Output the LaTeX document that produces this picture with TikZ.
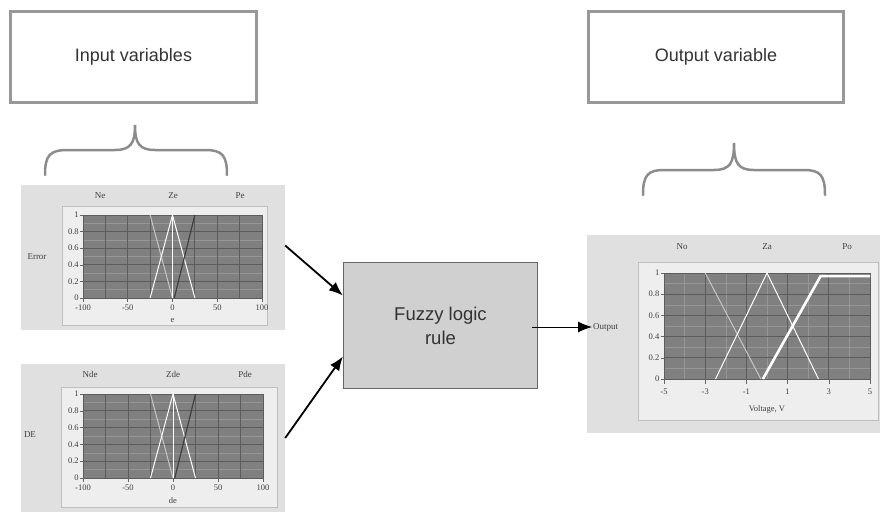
\documentclass[tikz,border=0pt]{standalone}
\usepackage{fontspec}
\setmainfont{Liberation Serif}
\setsansfont{Liberation Sans}
\usetikzlibrary{arrows.meta}

\definecolor{boxgray}{RGB}{152,152,152}
\definecolor{panelgray}{RGB}{224,224,224}
\definecolor{framegray}{RGB}{238,238,238}
\definecolor{plotgray}{RGB}{128,128,128}
\definecolor{majorgray}{RGB}{92,92,92}
\definecolor{minorgray}{RGB}{150,150,150}
\definecolor{rulegray}{RGB}{208,208,208}

\begin{document}
\begin{tikzpicture}[x=1pt, y=-1pt, font=\sffamily]
        \useasboundingbox (0,0) rectangle (880,514);

        % Setup the styles
        \tikzset{labelbox/.style={draw=boxgray, line width=2.5pt,
                                  minimum height=91pt,
                                  font=\sffamily\fontsize{18}{22}\selectfont,
                                  text=black!80},
                 panel/.style={fill=panelgray, draw=none, inner sep=0pt},
                 frame/.style={fill=framegray, draw=black!25, line width=0.6pt},
                 setname/.style={font=\rmfamily\fontsize{9}{10}\selectfont,
                                 text=black!75, inner sep=1pt},
                 ticklabel/.style={font=\rmfamily\fontsize{8.5}{9}\selectfont,
                                   text=black!75, inner sep=1pt},
                 minorline/.style={draw=minorgray, line width=0.5pt},
                 majorline/.style={draw=majorgray, line width=0.9pt},
                 tickline/.style={draw=black!60, line width=0.6pt},
                 mfline/.style={draw=white, line width=1pt},
                 fadeline/.style={draw=white!55!plotgray, line width=1pt},
                 darkline/.style={draw=black!75, line width=1.2pt},
                 bracket/.style={draw=black!45, line width=2.5pt, line cap=round},
                 arr/.style={-{Latex[length=14pt, width=11pt]}, line width=1.8pt}}

        % Draw the title boxes
        \node[labelbox, minimum width=246pt] at (133.5,57) (inbox) {Input variables};
        \node[labelbox, minimum width=255pt] at (716,57) (outbox) {Output variable};

        % Draw the braces
        \draw[bracket] (45,175) .. controls (45,155) and (50,150) .. (68,150)
            -- (115,150) .. controls (131,150) and (135,143) .. (135,125)
            .. controls (135,143) and (139,150) .. (155,150)
            -- (205,150) .. controls (222,150) and (227,155) .. (227,175);
        \draw[bracket] (643,195) .. controls (643,175) and (648,170) .. (664,170)
            -- (714,170) .. controls (730,170) and (734,163) .. (734,143)
            .. controls (734,163) and (738,170) .. (754,170)
            -- (804,170) .. controls (820,170) and (825,175) .. (825,195);

        % Error panel
        \node[panel, minimum width=264pt, minimum height=145pt] at (153,257.5) (err) {};
        \draw[frame] (62,206) rectangle (267,325);
        \node[setname] at (100,196) (ne) {Ne};
        \node[setname] at (173,196) (ze) {Ze};
        \node[setname] at (240,196) (pe) {Pe};
        \node[setname] at (37,257) (errname) {Error};
        \begin{scope}[shift={(172.5,298)}, x=0.895pt, y=83pt]
            \fill[plotgray] (-100,0) rectangle (100,1);
            \foreach \v in {0.1,0.3,0.5,0.7,0.9} \draw[minorline] (-100,\v) -- (100,\v);
            \foreach \v in {0,0.2,0.4,0.6,0.8,1} \draw[majorline] (-100,\v) -- (100,\v);
            \foreach \u in {-100,-75,...,100} \draw[majorline] (\u,0) -- (\u,1);
            \foreach \u [count=\k] in {-100,-50,0,50,100} {
                \draw[tickline] (\u,0) -- (\u,-0.05);
                \node[ticklabel, anchor=north] at (\u,-0.07) (ex\k) {\u};
            }
            \foreach \v [count=\k] in {0,0.2,0.4,0.6,0.8,1} {
                \draw[tickline] (-100,\v) -- ++(-3pt,0);
                \node[ticklabel, anchor=east] at (-103.5,\v) (ey\k) {\v};
            }
            \node[ticklabel] at (0,-0.27) (exname) {e};
            \draw[fadeline] (-25,1) -- (0,0);
            \draw[mfline] (-25,0) -- (0,1) -- (25,0);
            \draw[mfline] (0,0) -- (0,1);
            \draw[darkline] (2,0) -- (25,1);
        \end{scope}

        % DE panel
        \node[panel, minimum width=264pt, minimum height=148pt] at (153,438) (de) {};
        \draw[frame] (61,387) rectangle (277,507);
        \node[setname] at (90,374) (nde) {Nde};
        \node[setname] at (173,374) (zde) {Zde};
        \node[setname] at (245,374) (pde) {Pde};
        \node[setname] at (30,435) (dename) {DE};
        \begin{scope}[shift={(173,478)}, x=0.9pt, y=84pt]
            \fill[plotgray] (-100,0) rectangle (100,1);
            \foreach \v in {0.1,0.3,0.5,0.7,0.9} \draw[minorline] (-100,\v) -- (100,\v);
            \foreach \v in {0,0.2,0.4,0.6,0.8,1} \draw[majorline] (-100,\v) -- (100,\v);
            \foreach \u in {-100,-75,...,100} \draw[majorline] (\u,0) -- (\u,1);
            \foreach \u [count=\k] in {-100,-50,0,50,100} {
                \draw[tickline] (\u,0) -- (\u,-0.05);
                \node[ticklabel, anchor=north] at (\u,-0.07) (dx\k) {\u};
            }
            \foreach \v [count=\k] in {0,0.2,0.4,0.6,0.8,1} {
                \draw[tickline] (-100,\v) -- ++(-3pt,0);
                \node[ticklabel, anchor=east] at (-103.5,\v) (dy\k) {\v};
            }
            \node[ticklabel] at (0,-0.27) (dxname) {de};
            \draw[fadeline] (-25,1) -- (0,0);
            \draw[mfline] (-25,0) -- (0,1) -- (25,0);
            \draw[mfline] (0,0) -- (0,1);
            \draw[darkline] (2,0) -- (25,1);
        \end{scope}

        % Fuzzy logic rule
        \node[draw=black!60, fill=rulegray, line width=1.2pt,
              minimum width=194pt, minimum height=126pt, align=center,
              font=\sffamily\fontsize{18.5}{24}\selectfont, text=black!80]
              at (440.5,325.5) (rule) {Fuzzy logic\\rule};

        % Output panel
        \node[panel, minimum width=293pt, minimum height=198pt] at (733.5,334) (out) {};
        \draw[frame] (638,262) rectangle (878,420);
        \node[setname] at (682,247) (no) {No};
        \node[setname] at (767,247) (zo) {Za};
        \node[setname] at (847,247) (po) {Po};
        \node[setname, anchor=west] at (592,327) (outname) {Output};
        \begin{scope}[shift={(767,379)}, x=20.6pt, y=106pt]
            \fill[plotgray] (-5,0) rectangle (5,1);
            \foreach \v in {0.1,0.3,0.5,0.7,0.9} \draw[minorline] (-5,\v) -- (5,\v);
            \foreach \u in {-4,-2,0,2,4} \draw[minorline] (\u,0) -- (\u,1);
            \foreach \v in {0,0.2,0.4,0.6,0.8,1} \draw[majorline] (-5,\v) -- (5,\v);
            \foreach \u [count=\k] in {-5,-3,-1,1,3,5} {
                \draw[majorline] (\u,0) -- (\u,1);
                \draw[tickline] (\u,0) -- (\u,-0.05);
                \node[ticklabel, anchor=north] at (\u,-0.08) (ox\k) {\u};
            }
            \foreach \v [count=\k] in {0,0.2,0.4,0.6,0.8,1} {
                \draw[tickline] (-5,\v) -- ++(-3pt,0);
                \node[ticklabel, anchor=east] at (-5.17,\v) (oy\k) {\v};
            }
            \node[ticklabel] at (0,-0.29) (oxname) {Voltage, V};
            \draw[fadeline] (-3,1) -- (-0.3,0);
            \draw[mfline] (-2.5,0) -- (0,1) -- (2.5,0);
            \draw[draw=white, line width=2.6pt] (-0.2,0) -- (2.6,0.97) -- (5,0.97);
        \end{scope}

        % Connect the blocks with arrows
        \draw[arr] ([yshift=12pt]err.east) -- ([yshift=30pt]rule.west);
        \draw[arr] (de.east) -- ([yshift=-31pt]rule.west);
        \draw[arr, line width=1pt] ([xshift=-6pt]rule.east |- outname.west)
            -- (outname.west);
\end{tikzpicture}
\end{document}
